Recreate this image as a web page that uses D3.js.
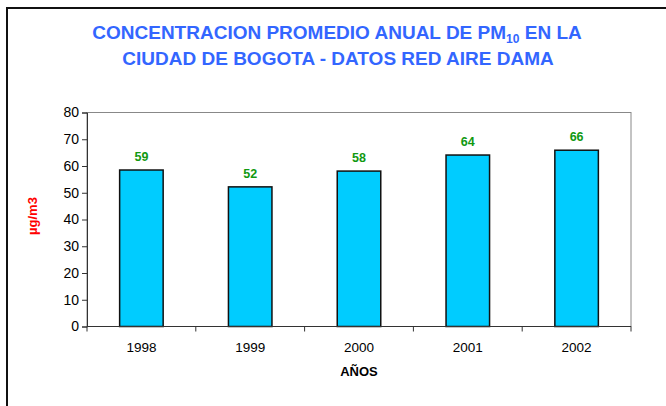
<!DOCTYPE html>
<html>
<head>
<meta charset="utf-8">
<script src="https://cdn.jsdelivr.net/npm/d3@7"></script>
<style>
  body { margin: 0; background: #fff; }
  text { font-family: "Liberation Sans", Arial, sans-serif; }
</style>
</head>
<body>
<svg width="666" height="406"></svg>
<script>
// datos
const years = ["1998", "1999", "2000", "2001", "2002"]
const pm10 = [58.5, 52.2, 58.1, 64.1, 65.9]
const pm10Labels = ["59", "52", "58", "64", "66"]
const yTicks = [0, 10, 20, 30, 40, 50, 60, 70, 80]

const svg = d3.select("svg")
const plot = { left: 87, right: 631, top: 112.5, bottom: 326.5 }

// borde exterior del grafico (se sale de la ventana)
svg.append("rect")
  .attr("x", 7).attr("y", 8)
  .attr("width", 700).attr("height", 450)
  .style("fill", "none").style("stroke", "#111").style("stroke-width", 2)

// titulo
const titleColor = "#3366ff"
const t1 = svg.append("text")
  .attr("x", 337).attr("y", 38.5)
  .attr("text-anchor", "middle")
  .style("font-size", "19px").style("font-weight", "bold").style("fill", titleColor)
t1.append("tspan").text("CONCENTRACION PROMEDIO ANUAL DE PM")
t1.append("tspan").attr("dy", 4).style("font-size", "12px").text("10")
t1.append("tspan").attr("dy", -4).text(" EN LA")

svg.append("text")
  .attr("x", 338).attr("y", 65)
  .attr("text-anchor", "middle")
  .style("font-size", "19px").style("font-weight", "bold").style("fill", titleColor)
  .text("CIUDAD DE BOGOTA - DATOS RED AIRE DAMA")

const x = d3.scaleBand().domain(years).range([plot.left, plot.right]).paddingInner(0.6).paddingOuter(0.3)
const y = d3.scaleLinear().domain([0, 80]).range([plot.bottom, plot.top])

// borde del area de trazado
svg.append("rect")
  .attr("x", plot.left).attr("y", plot.top)
  .attr("width", plot.right - plot.left).attr("height", plot.bottom - plot.top)
  .style("fill", "none").style("stroke", "#888").style("stroke-width", 1)

// barras
svg.selectAll("rect.bar")
  .data(pm10)
  .join("rect")
  .attr("class", "bar")
  .attr("x", (d, i) => x(years[i]))
  .attr("y", d => y(d))
  .attr("width", x.bandwidth())
  .attr("height", d => y(0) - y(d))
  .style("fill", "#00ccff").style("stroke", "#111").style("stroke-width", 1.5)

// etiquetas de valor
svg.selectAll("text.lbl")
  .data(pm10)
  .join("text")
  .attr("class", "lbl")
  .attr("x", (d, i) => x(years[i]) + x.bandwidth() / 2)
  .attr("y", d => y(d) - 9)
  .attr("text-anchor", "middle")
  .style("font-size", "12.5px").style("font-weight", "bold").style("fill", "#119911")
  .text((d, i) => pm10Labels[i])

// eje y
const yAxis = svg.append("g")
  .attr("transform", `translate(${plot.left},0)`)
  .call(d3.axisLeft(y).tickValues(yTicks).tickSize(5).tickPadding(3))
yAxis.select(".domain").style("stroke", "#333")
yAxis.selectAll(".tick line").style("stroke", "#333")
yAxis.selectAll("text").style("font-size", "14px").style("fill", "#000")
  .style("font-family", "'Liberation Sans', Arial, sans-serif")

// eje x: marcas entre categorias
const xAxis = svg.append("g")
  .attr("transform", `translate(0,${plot.bottom})`)
xAxis.append("line")
  .attr("x1", plot.left).attr("x2", plot.right)
  .style("stroke", "#333")
const step = (plot.right - plot.left) / years.length
xAxis.selectAll("line.tk")
  .data(d3.range(years.length + 1))
  .join("line")
  .attr("class", "tk")
  .attr("x1", i => plot.left + i * step).attr("x2", i => plot.left + i * step)
  .attr("y1", 0).attr("y2", 5)
  .style("stroke", "#333")
xAxis.selectAll("text")
  .data(years)
  .join("text")
  .attr("x", d => x(d) + x.bandwidth() / 2)
  .attr("y", 25.5)
  .attr("text-anchor", "middle")
  .style("font-size", "13.5px").style("fill", "#000")
  .text(d => d)

// titulos de ejes
svg.append("text")
  .attr("x", 359).attr("y", 376)
  .attr("text-anchor", "middle")
  .style("font-size", "13px").style("font-weight", "bold")
  .text("AÑOS")

svg.append("text")
  .attr("transform", "translate(37,216) rotate(-90)")
  .attr("text-anchor", "middle")
  .style("font-size", "13px").style("font-weight", "bold").style("fill", "#ff0000")
  .text("µg/m3")
</script>
</body>
</html>
